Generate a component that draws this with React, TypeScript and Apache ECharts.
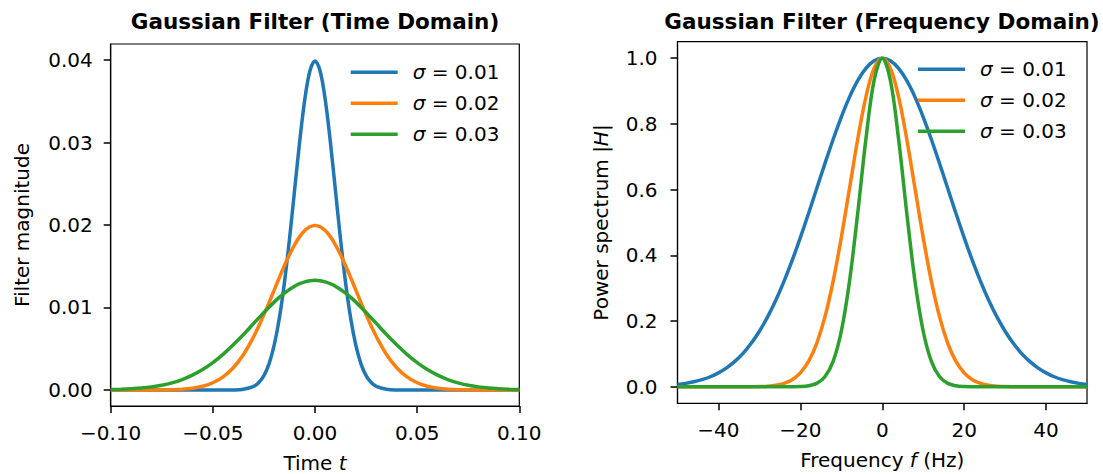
import React, { useEffect, useRef } from "react";
import * as echarts from "echarts";

// ---------- data ----------
const seriesNames = ["σ = 0.01", "σ = 0.02", "σ = 0.03"];
const colors = ["#1f77b4", "#ff7f0e", "#2ca02c"];

const timeT = [
  -0.1, -0.095, -0.09, -0.085, -0.08, -0.075, -0.07, -0.065, -0.06, -0.055, -0.05, -0.045, -0.04, -0.035,
  -0.03, -0.0275, -0.025, -0.0225, -0.02, -0.0175, -0.015, -0.0125, -0.01, -0.0075, -0.005, -0.0025, 0,
  0.0025, 0.005, 0.0075, 0.01, 0.0125, 0.015, 0.0175, 0.02, 0.0225, 0.025, 0.0275, 0.03,
  0.035, 0.04, 0.045, 0.05, 0.055, 0.06, 0.065, 0.07, 0.075, 0.08, 0.085, 0.09, 0.095, 0.1,
];
const timeSigma1 = [
  0, 0, 0, 0, 0, 0, 0, 0, 0, 0, 0, 0, 0.00001, 0.00009,
  0.00044, 0.00091, 0.00175, 0.00317, 0.0054, 0.00863, 0.01295, 0.01826, 0.0242, 0.03011, 0.0352, 0.03866, 0.03989,
  0.03866, 0.0352, 0.03011, 0.0242, 0.01826, 0.01295, 0.00863, 0.0054, 0.00317, 0.00175, 0.00091, 0.00044,
  0.00009, 0.00001, 0, 0, 0, 0, 0, 0, 0, 0, 0, 0, 0, 0,
];
const timeSigma2 = [
  0, 0, 0, 0, 0.00001, 0.00002, 0.00004, 0.0001, 0.00022, 0.00045, 0.00088, 0.00159, 0.0027, 0.00431,
  0.00648, 0.00775, 0.00913, 0.01059, 0.0121, 0.0136, 0.01506, 0.01641, 0.0176, 0.01859, 0.01933, 0.01979, 0.01995,
  0.01979, 0.01933, 0.01859, 0.0176, 0.01641, 0.01506, 0.0136, 0.0121, 0.01059, 0.00913, 0.00775, 0.00648,
  0.00431, 0.0027, 0.00159, 0.00088, 0.00045, 0.00022, 0.0001, 0.00004, 0.00002, 0.00001, 0, 0, 0, 0,
];
const timeSigma3 = [
  0.00005, 0.00009, 0.00015, 0.00024, 0.00038, 0.00058, 0.00087, 0.00127, 0.0018, 0.00248, 0.00332, 0.00432, 0.00547, 0.00673,
  0.00807, 0.00874, 0.0094, 0.01004, 0.01065, 0.01122, 0.01174, 0.01219, 0.01258, 0.01289, 0.01311, 0.01325, 0.0133,
  0.01325, 0.01311, 0.01289, 0.01258, 0.01219, 0.01174, 0.01122, 0.01065, 0.01004, 0.0094, 0.00874, 0.00807,
  0.00673, 0.00547, 0.00432, 0.00332, 0.00248, 0.0018, 0.00127, 0.00087, 0.00058, 0.00038, 0.00024, 0.00015, 0.00009, 0.00005,
];

const freqF = [
  -50, -48, -46, -44, -42, -40, -38, -36, -34, -32, -30, -28, -26, -24, -22, -20, -18, -16, -14, -12, -10, -8, -6, -4, -2,
  0,
  2, 4, 6, 8, 10, 12, 14, 16, 18, 20, 22, 24, 26, 28, 30, 32, 34, 36, 38, 40, 42, 44, 46, 48, 50,
];
const freqSigma1 = [
  0.00719, 0.01059, 0.01535, 0.0219, 0.03075, 0.04251, 0.05784, 0.07746, 0.1021, 0.13248, 0.16922, 0.21275, 0.26331,
  0.32078, 0.38466, 0.45404, 0.52753, 0.60331, 0.67916, 0.7526, 0.82087, 0.88132, 0.9314, 0.96891, 0.99214,
  1,
  0.99214, 0.96891, 0.9314, 0.88132, 0.82087, 0.7526, 0.67916, 0.60331, 0.52753, 0.45404, 0.38466, 0.32078,
  0.26331, 0.21275, 0.16922, 0.13248, 0.1021, 0.07746, 0.05784, 0.04251, 0.03075, 0.0219, 0.01535, 0.01059, 0.00719,
];
const freqSigma2 = [
  0, 0, 0, 0, 0, 0, 0.00001, 0.00004, 0.00011, 0.00031, 0.00082, 0.00205, 0.00481,
  0.01059, 0.0219, 0.04251, 0.07746, 0.13248, 0.21275, 0.32078, 0.45404, 0.60331, 0.7526, 0.88132, 0.96891,
  1,
  0.96891, 0.88132, 0.7526, 0.60331, 0.45404, 0.32078, 0.21275, 0.13248, 0.07746, 0.04251, 0.0219, 0.01059,
  0.00481, 0.00205, 0.00082, 0.00031, 0.00011, 0.00004, 0.00001, 0, 0, 0, 0, 0, 0,
];
const freqSigma3 = [
  0, 0, 0, 0, 0, 0, 0, 0, 0, 0, 0, 0, 0.00001,
  0.00004, 0.00018, 0.00082, 0.00317, 0.01059, 0.03075, 0.07746, 0.16922, 0.32078, 0.52753, 0.7526, 0.9314,
  1,
  0.9314, 0.7526, 0.52753, 0.32078, 0.16922, 0.07746, 0.03075, 0.01059, 0.00317, 0.00082, 0.00018, 0.00004,
  0.00001, 0, 0, 0, 0, 0, 0, 0, 0, 0, 0, 0, 0,
];

const timeXTicks = [-0.1, -0.05, 0, 0.05, 0.1];
const timeYTicks = [0, 0.01, 0.02, 0.03, 0.04];
const freqXTicks = [-40, -20, 0, 20, 40];
const freqYTicks = [0, 0.2, 0.4, 0.6, 0.8, 1.0];

const titles = ["Gaussian Filter (Time Domain)", "Gaussian Filter (Frequency Domain)"];

// ---------- helpers ----------
const FONT = "DejaVu Sans";
const fmt = (d: number) => (v: number) => {
  const s = Math.abs(v).toFixed(d);
  return v < -1e-12 ? "\u2212" + s : s;
};
const pairs = (xs: number[], ys: number[]) => xs.map((x, i) => [x, ys[i]]);

const italicRich = {
  i: { fontStyle: "italic", fontFamily: FONT, fontSize: 20, color: "#000" },
};

function xAxisCfg(grid: number, min: number, max: number, ticks: number[], dec: number, name: string) {
  return {
    type: "value",
    gridIndex: grid,
    min,
    max,
    name,
    nameLocation: "middle",
    nameGap: 47,
    nameTextStyle: { fontFamily: FONT, fontSize: 20, color: "#000", rich: italicRich },
    axisLine: { show: true, onZero: false, lineStyle: { color: "#000", width: 1.2 } },
    axisTick: { show: true, length: 7, customValues: ticks, lineStyle: { color: "#000", width: 1.5 } },
    axisLabel: {
      customValues: ticks,
      formatter: fmt(dec),
      margin: 17,
      fontFamily: FONT,
      fontSize: 20,
      color: "#000",
    },
    splitLine: { show: false },
  };
}

function yAxisCfg(grid: number, min: number, max: number, ticks: number[], dec: number, name: string, gap: number, margin: number) {
  return {
    type: "value",
    gridIndex: grid,
    min,
    max,
    name,
    nameLocation: "middle",
    nameRotate: 90,
    nameGap: gap,
    nameTextStyle: { fontFamily: FONT, fontSize: 20, color: "#000", rich: italicRich },
    axisLine: { show: true, onZero: false, lineStyle: { color: "#000", width: 1.2 } },
    axisTick: { show: true, length: 7, customValues: ticks, lineStyle: { color: "#000", width: 1.5 } },
    axisLabel: {
      customValues: ticks,
      formatter: fmt(dec),
      margin,
      fontFamily: FONT,
      fontSize: 20,
      color: "#000",
    },
    splitLine: { show: false },
  };
}

function legendCfg(left: number, top: number) {
  return {
    left,
    top,
    orient: "vertical",
    padding: 0,
    itemGap: 11,
    itemWidth: 47,
    itemHeight: 3.6,
    icon: "rect",
    selectedMode: false,
    data: seriesNames,
    formatter: (name: string) => "{i|σ}{n|" + name.slice(1) + "}",
    textStyle: {
      fontFamily: FONT,
      fontSize: 20,
      color: "#000",
      rich: {
        i: { fontStyle: "italic", fontFamily: FONT, fontSize: 20, lineHeight: 20, color: "#000", padding: [0, 0, 0, 10] },
        n: { fontFamily: FONT, fontSize: 20, lineHeight: 20, color: "#000" },
      },
    },
  };
}

function lineSeries(name: string, color: string, data: number[][], grid: number) {
  return {
    type: "line",
    name,
    xAxisIndex: grid,
    yAxisIndex: grid,
    data,
    smooth: 0.35,
    symbol: "none",
    showSymbol: false,
    clip: true,
    silent: true,
    emphasis: { disabled: true },
    itemStyle: { color },
    lineStyle: { color, width: 3.5 },
  };
}

export default function App() {
  const ref = useRef<HTMLDivElement>(null);

  useEffect(() => {
    if (!ref.current) return;
    const chart = echarts.init(ref.current, undefined, { renderer: "svg" });
    const timeData = [timeSigma1, timeSigma2, timeSigma3];
    const freqData = [freqSigma1, freqSigma2, freqSigma3];

    const gridBase = {
      show: true,
      borderColor: "#000",
      borderWidth: 1.2,
      backgroundColor: "transparent",
      containLabel: false,
      outerBoundsMode: "none",
    };

    const option: any = {
      animation: false,
      backgroundColor: "#ffffff",
      color: colors,
      title: [
        {
          text: titles[0],
          left: 315,
          top: 10,
          textAlign: "center",
          padding: 0,
          textStyle: { fontFamily: FONT, fontWeight: "bold", fontSize: 21.5, color: "#000" },
        },
        {
          text: titles[1],
          left: 882,
          top: 10,
          textAlign: "center",
          padding: 0,
          textStyle: { fontFamily: FONT, fontWeight: "bold", fontSize: 21.5, color: "#000" },
        },
      ],
      legend: [legendCfg(350.7, 62.3), legendCfg(918, 59.3)],
      grid: [
        { ...gridBase, left: 110.7, top: 44, width: 408.6, height: 362 },
        { ...gridBase, left: 677.5, top: 41.7, width: 409.5, height: 361.6 },
      ],
      xAxis: [
        xAxisCfg(0, -0.1, 0.1, timeXTicks, 2, "Time {i|t}"),
        xAxisCfg(1, -50, 50, freqXTicks, 0, "Frequency {i|f} (Hz)"),
      ],
      yAxis: [
        yAxisCfg(0, -0.00194, 0.04194, timeYTicks, 2, "Filter magnitude", 79, 18),
        yAxisCfg(1, -0.05, 1.05, freqYTicks, 1, "Power spectrum |{i|H}|", 67, 20),
      ],
      series: [
        ...seriesNames.map((n, k) => lineSeries(n, colors[k], pairs(timeT, timeData[k]), 0)),
        ...seriesNames.map((n, k) => lineSeries(n, colors[k], pairs(freqF, freqData[k]), 1)),
      ],
    };
    chart.setOption(option);
    return () => chart.dispose();
  }, []);

  return (
    <div
      ref={ref}
      style={{ position: "fixed", left: 0, top: 0, width: 1103, height: 474, background: "#fff" }}
    />
  );
}
